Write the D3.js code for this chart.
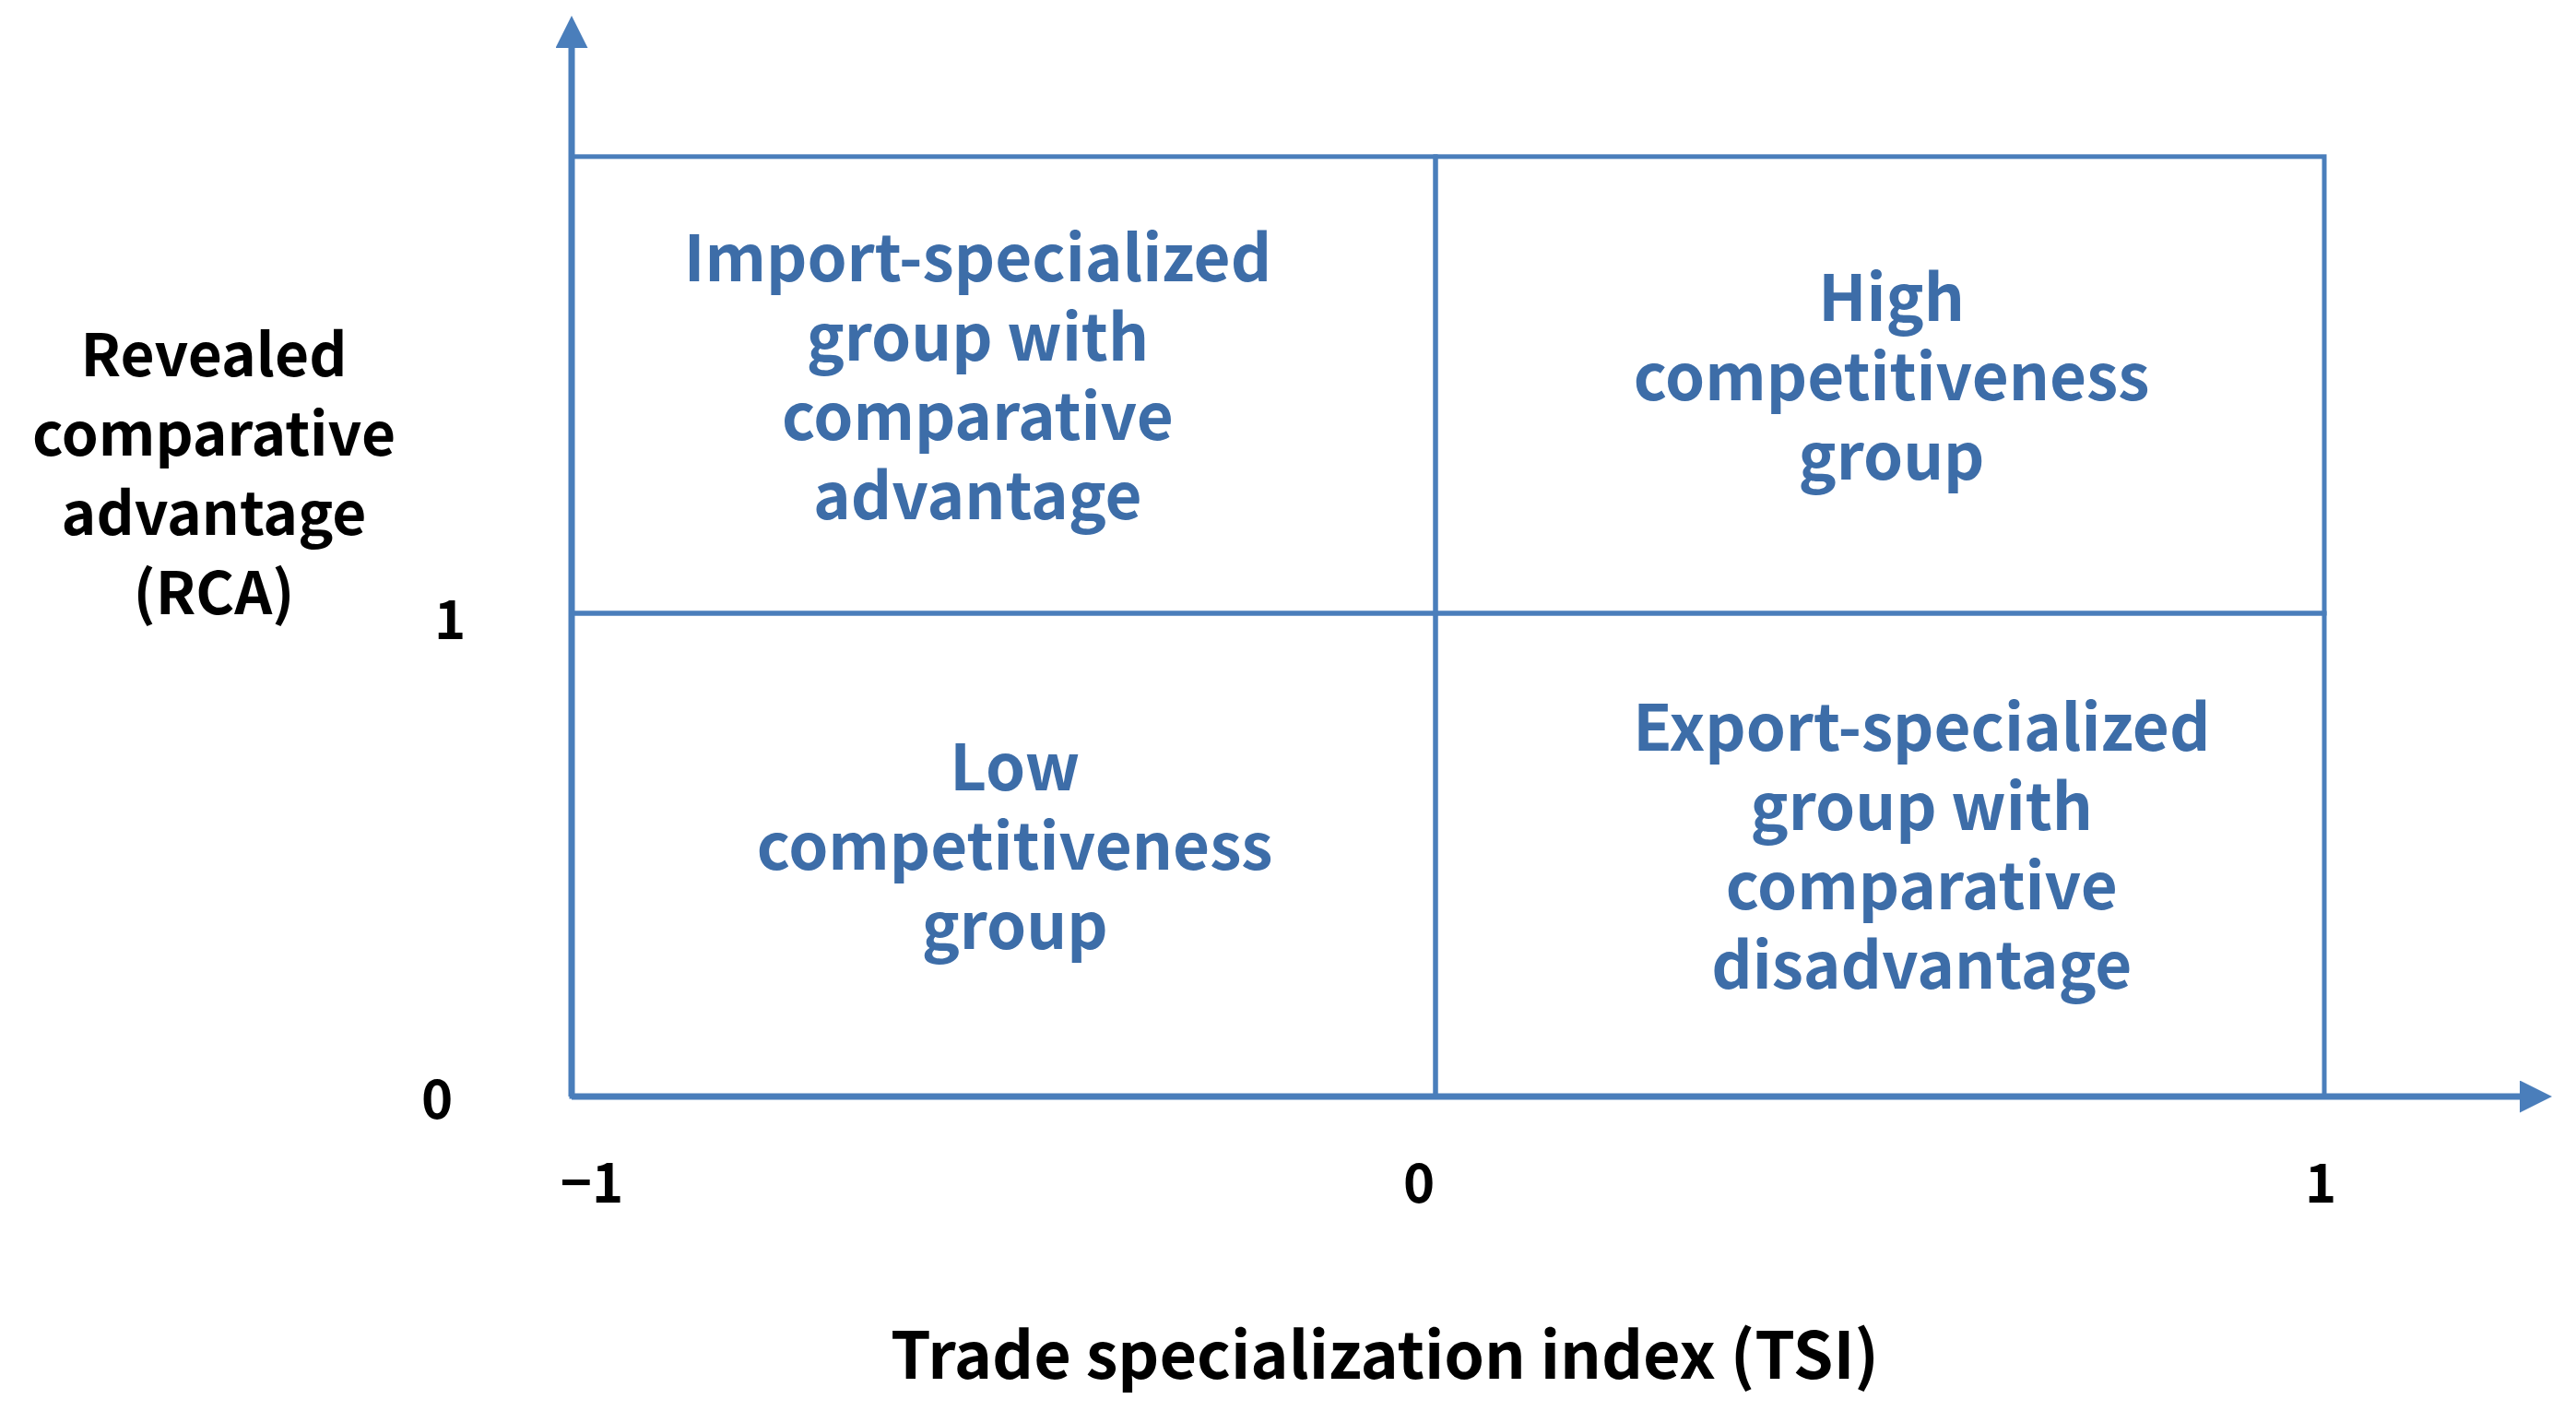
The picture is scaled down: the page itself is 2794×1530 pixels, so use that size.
<!DOCTYPE html>
<html><head><meta charset="utf-8">
<script src="https://cdn.jsdelivr.net/npm/d3@7"></script>
<style>body{margin:0;background:#fff}text{font-family:"Noto Sans CJK KR","Open Sans",sans-serif;font-weight:700}</style>
</head><body><svg id="c" width="2794" height="1530"></svg>
<script>
const xTicks = [-1, 0, 1];
const xTickLabels = ["\u22121", "0", "1"];
const yTicks = [0, 1];
const yTickLabels = ["0", "1"];
const xDomain = [-1, 0, 1];
const yTop = 1.945;
const quadrants = [
  {x0:-1,x1:0,y0:1,y1:yTop,lines:["Import-specialized","group with","comparative","advantage"],cx:-0.53},
  {x0:0,x1:1,y0:1,y1:yTop,lines:["High","competitiveness","group"],cx:0.513},
  {x0:-1,x1:0,y0:0,y1:1,lines:["Low","competitiveness","group"],cx:-0.487},
  {x0:0,x1:1,y0:0,y1:1,lines:["Export-specialized","group with","comparative","disadvantage"],cx:0.547}
];
const xTitle = "Trade specialization index (TSI)";
const yTitle = ["Revealed","comparative","advantage","(RCA)"];

const svg = d3.select("#c");
const blue = "#4a7ebb", tblue = "#3d6da8";
const x = d3.scaleLinear().domain(xDomain).range([620, 1557, 2521]);
const y = d3.scaleLinear().domain([0, 1]).range([1189, 665]);
const lh = 86;

quadrants.forEach(q => {
  svg.append("rect").attr("x", x(q.x0)).attr("y", y(q.y1))
    .attr("width", x(q.x1)-x(q.x0)).attr("height", y(q.y0)-y(q.y1))
    .attr("fill","none").attr("stroke",blue).attr("stroke-width",5);
  const cy = (y(q.y0)+y(q.y1))/2;
  const n = q.lines.length;
  q.lines.forEach((l,i) => {
    svg.append("text").attr("x", x(q.cx)).attr("y", cy - 8 + (i-(n-1)/2)*lh)
      .attr("dy","0.35em").attr("text-anchor","middle").attr("fill",tblue)
      .attr("font-size",69).text(l);
  });
});

svg.append("defs").append("marker").attr("id","ar").attr("viewBox","0 0 10 10")
  .attr("refX",2).attr("refY",5).attr("markerWidth",5).attr("markerHeight",5)
  .attr("orient","auto").append("path").attr("d","M0,0L10,5L0,10z").attr("fill",blue);
svg.append("line").attr("x1",x(-1)).attr("y1",y(0)).attr("x2",2740).attr("y2",y(0))
  .attr("stroke",blue).attr("stroke-width",7).attr("marker-end","url(#ar)");
svg.append("line").attr("x1",x(-1)).attr("y1",y(0)).attr("x2",x(-1)).attr("y2",45)
  .attr("stroke",blue).attr("stroke-width",7).attr("marker-end","url(#ar)");

const xOff = [22, -18, -4];
xTicks.forEach((t,i) => svg.append("text").attr("x", x(t)+xOff[i]).attr("y", 1284)
  .attr("dy","0.35em").attr("text-anchor","middle").attr("font-size",58).attr("fill","#000").text(xTickLabels[i]));
yTicks.forEach((t,i) => svg.append("text").attr("x", t===0?474:488).attr("y", y(t)+(t===0?4:8))
  .attr("dy","0.35em").attr("text-anchor","middle").attr("font-size",58).attr("fill","#000").text(yTickLabels[i]));

svg.append("text").attr("x",1502).attr("y",1470).attr("dy","0.35em").attr("text-anchor","middle")
  .attr("font-size",70).attr("fill","#000").text(xTitle);
yTitle.forEach((l,i) => svg.append("text").attr("x",232).attr("y",386+i*86).attr("dy","0.35em")
  .attr("text-anchor","middle").attr("font-size",64).attr("fill","#000").text(l));
</script></body></html>
